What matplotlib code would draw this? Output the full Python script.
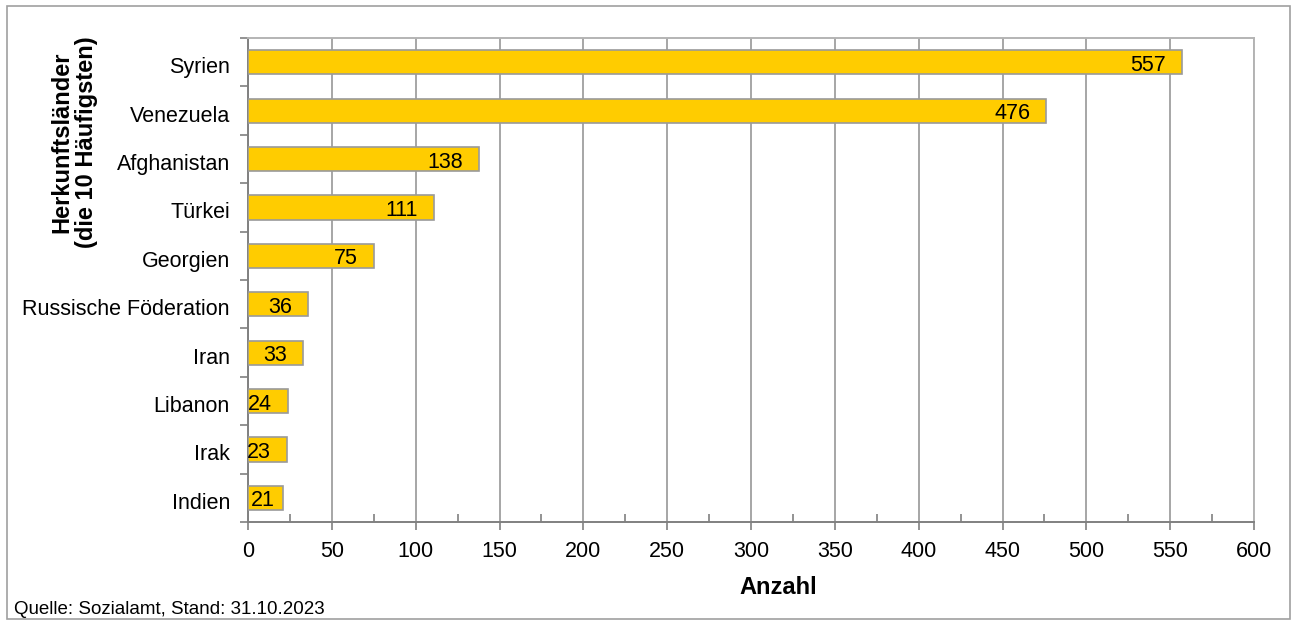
import matplotlib.pyplot as plt
import matplotlib.transforms as mtransforms
import numpy as np
from matplotlib.patches import Rectangle
from matplotlib.ticker import MultipleLocator

plt.rcParams["font.family"] = ["Liberation Sans", "DejaVu Sans"]

# Herkunftsländer, häufigste zuerst
laender = ["Syrien", "Venezuela", "Afghanistan", "Türkei", "Georgien",
           "Russische Föderation", "Iran", "Libanon", "Irak", "Indien"]
anzahl = [557, 476, 138, 111, 75, 36, 33, 24, 23, 21]

W, H = 1293, 627
fig = plt.figure(figsize=(W / 100, H / 100), dpi=100)
ax = fig.add_axes([248 / W, 1 - 522 / H, (1254 - 248) / W, (522 - 38) / H])

pos = np.arange(len(laender))
ax.barh(pos, anzahl, height=0.5, color="#FFCC00", edgecolor="#9a9a9a",
        linewidth=1.2, zorder=3)

for p, v in zip(pos, anzahl):
    if v < 22:
        ax.annotate(str(v), (0, p), xytext=(3, -3), textcoords="offset pixels",
                    ha="left", va="center", fontsize=15.5, zorder=4)
    else:
        ax.annotate(str(v), (v, p), xytext=(-16, -3), textcoords="offset pixels",
                    ha="right", va="center", fontsize=15.5, zorder=4)

ax.set_xlim(0, 600)
ax.set_ylim(len(laender) - 0.5, -0.5)

ax.xaxis.set_major_locator(MultipleLocator(50))
ax.xaxis.set_minor_locator(MultipleLocator(25))
ax.tick_params(axis="x", which="major", direction="out", length=6,
               width=1.2, color="#808080", labelsize=15.5, pad=8)
ax.tick_params(axis="x", which="minor", direction="in", length=6,
               width=1.2, color="#808080")

ax.set_yticks(pos)
ax.set_yticklabels(laender)
ax.set_yticks(np.arange(len(laender) + 1) - 0.5, minor=True)
ax.tick_params(axis="y", which="major", length=0, labelsize=15.5, pad=13)
ax.tick_params(axis="y", which="minor", direction="out", length=6,
               width=1.2, color="#808080")

# Länderbeschriftungen etwas tiefer setzen
shift = mtransforms.ScaledTranslation(0, -3 / 100, fig.dpi_scale_trans)
for lbl in ax.get_yticklabels():
    lbl.set_transform(lbl.get_transform() + shift)

ax.grid(axis="x", which="major", color="#a6a6a6", linewidth=1.4, zorder=0)
for s in ("left", "bottom"):
    ax.spines[s].set_color("#808080")
    ax.spines[s].set_linewidth(1.4)
for s in ("top", "right"):
    ax.spines[s].set_color("#b4b4b4")
    ax.spines[s].set_linewidth(1.4)

fig.text(74 / W, 1 - 142 / H, "Herkunftsländer\n(die 10 Häufigsten)",
         rotation=90, ha="center", va="center", multialignment="center",
         fontsize=17, fontweight="bold", linespacing=1.12)
fig.text(778 / W, 1 - 588 / H, "Anzahl", ha="center", va="center",
         fontsize=17, fontweight="bold")
fig.text(14 / W, 1 - 610 / H, "Quelle: Sozialamt, Stand: 31.10.2023",
         ha="left", va="center", fontsize=13.5)

fig.patches.append(Rectangle((7 / W, 1 - 619 / H), (1290 - 7) / W,
                             (619 - 6) / H, transform=fig.transFigure,
                             fill=False, edgecolor="#a0a0a0", linewidth=1.2))

fig.savefig("out.png", dpi=100)
